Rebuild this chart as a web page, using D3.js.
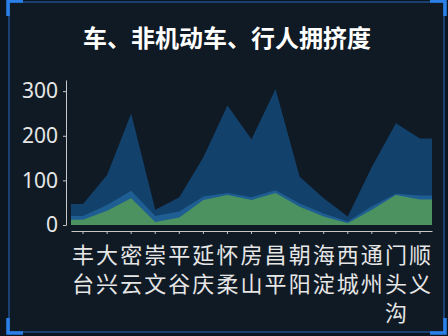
<!DOCTYPE html>
<html>
<head>
<meta charset="utf-8">
<script src="https://cdn.jsdelivr.net/npm/d3@7"></script>
<style>
  html, body { margin: 0; padding: 0; background: #0c1620; }
  svg { display: block; }
  text { font-family: "Noto Sans CJK SC", "Noto Sans", sans-serif; }
</style>
</head>
<body>
<svg id="chart" width="448" height="336"></svg>
<script>
// district names, values
var districts = ["丰台","大兴","密云","崇文","平谷","延庆","怀柔","房山","昌平","朝阳","海淀","西城","通州","门头沟","顺义"];
var cars = [47, 112, 250, 34, 62, 152, 268, 192, 305, 108, 60, 19, 130, 228, 194];
var bikes = [20, 45, 77, 20, 30, 64, 72, 62, 78, 48, 26, 8, 42, 70, 66];
var walkers = [12, 32, 60, 7, 17, 56, 67, 56, 72, 41, 19, 4, 34, 67, 57];
var yTicks = [0, 100, 200, 300];

var svg = d3.select("#chart");

// panel + border
svg.append("rect")
  .attr("x", 9).attr("y", 2).attr("width", 435).attr("height", 330)
  .attr("fill", "#0f1a24")
  .attr("stroke", "#1f4f8c")
  .attr("stroke-width", 1.5);

// corner accents
var corners = [
  "M8,16 L8,1 L23,1",
  "M430,1 L445,1 L445,16",
  "M8,318 L8,333 L23,333",
  "M430,333 L445,333 L445,318"
];
svg.selectAll("path.corner").data(corners).enter().append("path")
  .attr("class", "corner")
  .attr("d", function(d) { return d; })
  .attr("fill", "none")
  .attr("stroke", "#2a80e8")
  .attr("stroke-width", 3.5);

svg.append("text")
  .attr("x", 227).attr("y", 47)
  .attr("text-anchor", "middle")
  .attr("fill", "#ffffff")
  .attr("font-size", 24)
  .attr("font-weight", "bold")
  .text("车、非机动车、行人拥挤度");

var x = d3.scaleBand().domain(districts).range([71, 432]);
var y = d3.scaleLinear().domain([0, 325]).range([225, 80]);

// points at band centers, flat half-band at both ends
function pts(vals) {
  var p = vals.map(function(v, i) { return [x(districts[i]) + x.bandwidth() / 2, v]; });
  p.unshift([x.range()[0], vals[0]]);
  p.push([x.range()[1], vals[vals.length - 1]]);
  return p;
}

var area = d3.area()
  .x(function(d) { return d[0]; })
  .y0(y(0))
  .y1(function(d) { return y(d[1]); });

var series = [
  { vals: cars, color: "#12416c" },
  { vals: bikes, color: "#1f5e92" },
  { vals: walkers, color: "#4c9160" }
];

svg.selectAll("path.area").data(series).enter().append("path")
  .attr("class", "area")
  .attr("d", function(d) { return area(pts(d.vals)); })
  .attr("fill", function(d) { return d.color; });

// y axis
var yAxis = svg.append("g")
  .attr("transform", "translate(66,0)")
  .call(d3.axisLeft(y).tickValues(yTicks).tickSize(3).tickSizeOuter(0));
yAxis.select(".domain").attr("stroke", "#c8c8c8");
yAxis.selectAll(".tick line").attr("stroke", "#c8c8c8");
yAxis.selectAll(".tick text")
  .attr("fill", "#e6e6e6")
  .attr("font-size", 21)
  .attr("x", -8)
  .style("font-family", "'Noto Sans', sans-serif");

// x axis
var xAxis = svg.append("g")
  .attr("transform", "translate(0,231)")
  .call(d3.axisBottom(x).tickSize(3).tickSizeOuter(0).tickFormat(""));
xAxis.select(".domain").attr("stroke", "#c8c8c8");
xAxis.selectAll(".tick line").attr("stroke", "#c8c8c8");

// vertical district labels, one char per row
var labels = svg.append("g").selectAll("text").data(districts).enter().append("text")
  .attr("x", function(d) { return x(d) + x.bandwidth() / 2; })
  .attr("y", 263)
  .attr("text-anchor", "middle")
  .attr("fill", "#e6e6e6")
  .attr("font-size", 22);

labels.selectAll("tspan")
  .data(function(d) { return d.split(""); })
  .enter().append("tspan")
  .attr("x", function() { return d3.select(this.parentNode).attr("x"); })
  .attr("dy", function(d, i) { return i === 0 ? 0 : 29; })
  .text(function(d) { return d; });
</script>
</body>
</html>
